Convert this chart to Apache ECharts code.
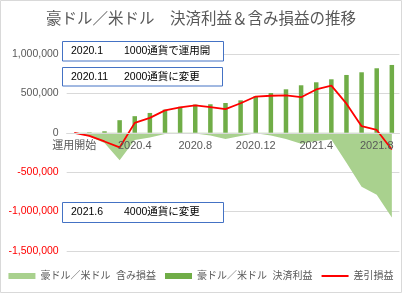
<!DOCTYPE html>
<html><head><meta charset="utf-8">
<script src="https://cdn.jsdelivr.net/npm/echarts@6/dist/echarts.min.js"></script>
<style>html,body{margin:0;padding:0;background:#fff}#c{width:402px;height:294px}</style>
</head><body><div id="c"></div>
<script>
const categories = ['運用開始','2020.1','2020.2','2020.3','2020.4','2020.5','2020.6','2020.7','2020.8','2020.9','2020.10','2020.11','2020.12','2021.1','2021.2','2021.3','2021.4','2021.5','2021.6','2021.7','2021.8','2021.9'];
const unrealized = [0,-46000,-130000,-348000,-92000,-60000,-15000,-10000,-10000,-35000,-78000,-40000,-5000,-35000,-80000,-140000,-105000,-85000,-380000,-685000,-785000,-1076000];
const realized = [0,6000,19000,160000,211000,252000,294000,330000,358000,362000,378000,412000,463000,505000,552000,603000,641000,679000,734000,768000,819000,861000];
const net = [0,-40000,-110000,-186000,126000,190000,285000,324000,349000,327000,300000,375000,460000,470000,476000,452000,550000,599000,370000,84000,36000,-212000];
const seriesNames = ['豪ドル／米ドル  含み損益','豪ドル／米ドル  決済利益','差引損益'];
const titleText = '豪ドル／米ドル　決済利益＆含み損益の推移';
const noteDates = ['2020.1','2020.11','2021.6'];
const noteTexts = ['1000通貨で運用開始','2000通貨に変更','4000通貨に変更'];

const FF = '"Liberation Sans","Noto Sans CJK JP",sans-serif';
const chart = echarts.init(document.getElementById('c'), null, {renderer:'canvas'});
const boxes = [[62.5,41.5,161,19.5],[62.5,67.5,160,18.5],[62.5,202.5,161,20]];
const graphics = [{type:'rect',shape:{x:0.5,y:0.5,width:401,height:292},style:{fill:'none',stroke:'#D9D9D9',lineWidth:1},z:0,silent:true}];
boxes.forEach((b,i)=>{
  graphics.push({type:'rect',shape:{x:b[0],y:b[1],width:b[2],height:b[3]},style:{fill:'#fff',stroke:'#4472C4',lineWidth:1},z:20});
  graphics.push({type:'text',x:71,y:b[1]+b[3]/2,style:{text:noteDates[i],fill:'#000',fontSize:10.5,fontFamily:FF,verticalAlign:'middle'},z:21});
  graphics.push({type:'text',x:124,y:b[1]+b[3]/2,style:{text:noteTexts[i],fill:'#000',fontSize:10.5,fontFamily:FF,verticalAlign:'middle',width:93,overflow:'truncate',ellipsis:''},z:21});
});
chart.setOption({
  animation:false,
  title:{text:titleText,left:'center',top:7,textStyle:{fontSize:15.5,fontWeight:'normal',color:'#595959',fontFamily:FF}},
  grid:{left:66.7,right:2.6,top:54,bottom:43,containLabel:false},
  legend:{top:266,left:'center',itemWidth:27,itemHeight:6,itemGap:9,textStyle:{fontSize:10,color:'#595959',fontFamily:FF},
    data:[{name:seriesNames[0],icon:'rect'},{name:seriesNames[1],icon:'rect'},{name:seriesNames[2],icon:'path://M0,0L27,0L27,2L0,2Z'}]},
  xAxis:{type:'category',data:categories,boundaryGap:true,z:5,position:'bottom',offset:-118.2,
    axisLine:{onZero:false,lineStyle:{color:'#D9D9D9'}},axisTick:{show:false},
    axisLabel:{interval:3,fontSize:11,color:'#595959',fontFamily:FF,margin:8}},
  yAxis:{type:'value',min:-1500000,max:1000000,interval:500000,
    axisLine:{show:false},axisTick:{show:false},
    splitLine:{lineStyle:{color:'#D9D9D9'}},
    axisLabel:{fontSize:10.5,fontFamily:FF,margin:8,
      color:v=>Number(v)<0?'#FF0000':'#595959',
      formatter:v=>Number(v).toLocaleString('en-US')}},
  series:[
    {name:seriesNames[0],type:'line',data:unrealized,symbol:'none',color:'#A9D18E',
      lineStyle:{width:0},areaStyle:{color:'#A9D18E',opacity:1}},
    {name:seriesNames[1],type:'bar',data:realized,barWidth:4.5,color:'#70AD47'},
    {name:seriesNames[2],type:'line',data:net,symbol:'none',color:'#FF0000',lineStyle:{width:1.8,color:'#FF0000'}}
  ],
  graphic:graphics
});
</script></body></html>
